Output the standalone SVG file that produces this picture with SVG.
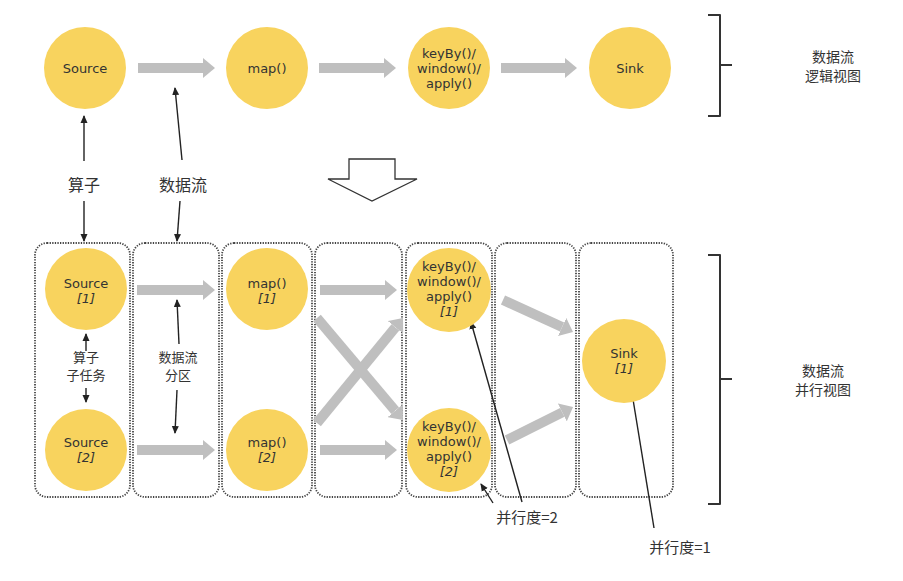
<svg xmlns="http://www.w3.org/2000/svg" width="903" height="581" viewBox="0 0 903 581">
<defs>
<style>
.op{fill:#F8D35E;}
.lbl{font-family:"DejaVu Sans","Liberation Sans",sans-serif;font-size:13px;fill:#333;text-anchor:middle;}
.it{font-style:italic;}
.cn{font-family:"Noto Sans CJK SC","Noto Sans",sans-serif;fill:#333;text-anchor:middle;}
.flow{stroke:#BFBFBF;stroke-width:10;fill:none;marker-end:url(#gh);}
.thin{stroke:#222;stroke-width:1.4;fill:none;marker-end:url(#bh);}
.box{fill:none;stroke:#444;stroke-width:1.8;stroke-dasharray:1.3 1.3;}
.brace{fill:none;stroke:#333;stroke-width:2;stroke-linejoin:round;}
</style>
<marker id="gh" markerUnits="userSpaceOnUse" markerWidth="12" markerHeight="20" refX="0" refY="10" orient="auto" viewBox="0 0 12 20">
<path d="M0,0 L12,10 L0,20 z" fill="#BFBFBF"/>
</marker>
<marker id="bh" markerUnits="userSpaceOnUse" markerWidth="8" markerHeight="8" refX="7" refY="4" orient="auto" viewBox="0 0 8 8">
<path d="M0,0.5 L8,4 L0,7.5 z" fill="#222"/>
</marker>
</defs>
<rect width="903" height="581" fill="#fff"/>

<g id="partitions">
<rect class="box" x="35" y="243" width="95" height="254" rx="12"/>
<rect class="box" x="133" y="243" width="86" height="254" rx="12"/>
<rect class="box" x="222" y="243" width="90" height="254" rx="12"/>
<rect class="box" x="315" y="243" width="87" height="254" rx="12"/>
<rect class="box" x="406" y="243" width="86" height="254" rx="12"/>
<rect class="box" x="495" y="243" width="81" height="254" rx="12"/>
<rect class="box" x="579" y="243" width="94" height="254" rx="12"/>
</g>

<g id="connectors">
<line class="flow" x1="138" y1="68" x2="203" y2="68"/>
<line class="flow" x1="319" y1="68" x2="384" y2="68"/>
<line class="flow" x1="501" y1="68" x2="565" y2="68"/>
<line class="flow" x1="137" y1="290" x2="203" y2="290"/>
<line class="flow" x1="137" y1="450" x2="203" y2="450"/>
<line class="flow" x1="320" y1="290" x2="385" y2="290"/>
<line class="flow" x1="320" y1="450" x2="385" y2="450"/>
<line class="flow" x1="317" y1="318" x2="395.2" y2="410.8"/>
<line class="flow" x1="317" y1="423" x2="395.4" y2="327.3"/>
<line class="flow" x1="503" y1="300" x2="562.1" y2="327"/>
<line class="flow" x1="507" y1="440" x2="562.3" y2="412.4"/>

<line class="thin" x1="84" y1="161" x2="84" y2="116"/>
<line class="thin" x1="84" y1="201" x2="84" y2="241"/>
<line class="thin" x1="182" y1="160" x2="175" y2="88"/>
<line class="thin" x1="180" y1="201" x2="177" y2="241"/>
<line class="thin" x1="86" y1="351" x2="86" y2="334"/>
<line class="thin" x1="86" y1="388" x2="86" y2="402"/>
<line class="thin" x1="179" y1="344" x2="177" y2="300"/>
<line class="thin" x1="177" y1="390" x2="175" y2="433"/>
<line class="thin" x1="522" y1="502" x2="471" y2="322"/>
<line class="thin" x1="493" y1="503" x2="481" y2="484"/>
<line class="thin" x1="654" y1="528" x2="631" y2="387"/>
</g>

<g id="source"><circle class="op" cx="85" cy="68" r="41"/><text class="lbl" x="85" y="73">Source</text></g>
<g id="map"><circle class="op" cx="267" cy="68" r="41"/><text class="lbl" x="267" y="73">map()</text></g>
<g id="keyby"><circle class="op" cx="449" cy="68" r="41"/>
<text class="lbl" x="449" y="58">keyBy()/</text><text class="lbl" x="449" y="73">window()/</text><text class="lbl" x="449" y="88">apply()</text></g>
<g id="sink"><circle class="op" cx="630" cy="68" r="41"/><text class="lbl" x="630" y="73">Sink</text></g>

<g id="source1"><circle class="op" cx="86" cy="289" r="41"/><text class="lbl" x="86" y="288">Source</text><text class="lbl it" x="86" y="303">[1]</text></g>
<g id="source2"><circle class="op" cx="86" cy="450" r="41"/><text class="lbl" x="86" y="447">Source</text><text class="lbl it" x="86" y="462">[2]</text></g>
<g id="map1"><circle class="op" cx="267" cy="289" r="41"/><text class="lbl" x="267" y="288">map()</text><text class="lbl it" x="267" y="303">[1]</text></g>
<g id="map2"><circle class="op" cx="267" cy="450" r="41"/><text class="lbl" x="267" y="447">map()</text><text class="lbl it" x="267" y="462">[2]</text></g>
<g id="keyby1"><circle class="op" cx="449" cy="290" r="42"/>
<text class="lbl" x="449" y="271">keyBy()/</text><text class="lbl" x="449" y="286">window()/</text><text class="lbl" x="449" y="301">apply()</text><text class="lbl it" x="449" y="316">[1]</text></g>
<g id="keyby2"><circle class="op" cx="449" cy="450" r="42"/>
<text class="lbl" x="449" y="431">keyBy()/</text><text class="lbl" x="449" y="446">window()/</text><text class="lbl" x="449" y="461">apply()</text><text class="lbl it" x="449" y="476">[2]</text></g>
<g id="sink1"><circle class="op" cx="624" cy="361" r="42"/><text class="lbl" x="624" y="358">Sink</text><text class="lbl it" x="624" y="373">[1]</text></g>

<g id="transform"><path d="M349,159 H395 V179 H417 L372,201 L328,179 H349 Z" fill="#fff" stroke="#333" stroke-width="1.3"/></g>

<g id="brace-top"><path class="brace" d="M708,15 H720 V116 H708 M720,65 H732"/></g>
<g id="brace-bottom"><path class="brace" d="M708,255 H720 V504 H708 M720,379 H732"/></g>

<g id="labels">
<text class="cn" x="84" y="191" font-size="16">算子</text>
<text class="cn" x="183" y="191" font-size="16">数据流</text>
<text class="cn" x="86" y="362" font-size="13">算子</text>
<text class="cn" x="86" y="380" font-size="13">子任务</text>
<text class="cn" x="178" y="362" font-size="13">数据流</text>
<text class="cn" x="178" y="380" font-size="13">分区</text>
<text class="cn" x="833" y="62" font-size="14" fill="#444">数据流</text>
<text class="cn" x="833" y="81" font-size="14" fill="#444">逻辑视图</text>
<text class="cn" x="823" y="376" font-size="14" fill="#444">数据流</text>
<text class="cn" x="823" y="395" font-size="14" fill="#444">并行视图</text>
<text class="cn" x="527" y="523" font-size="15">并行度=2</text>
<text class="cn" x="680" y="553" font-size="15">并行度=1</text>
</g>
</svg>
